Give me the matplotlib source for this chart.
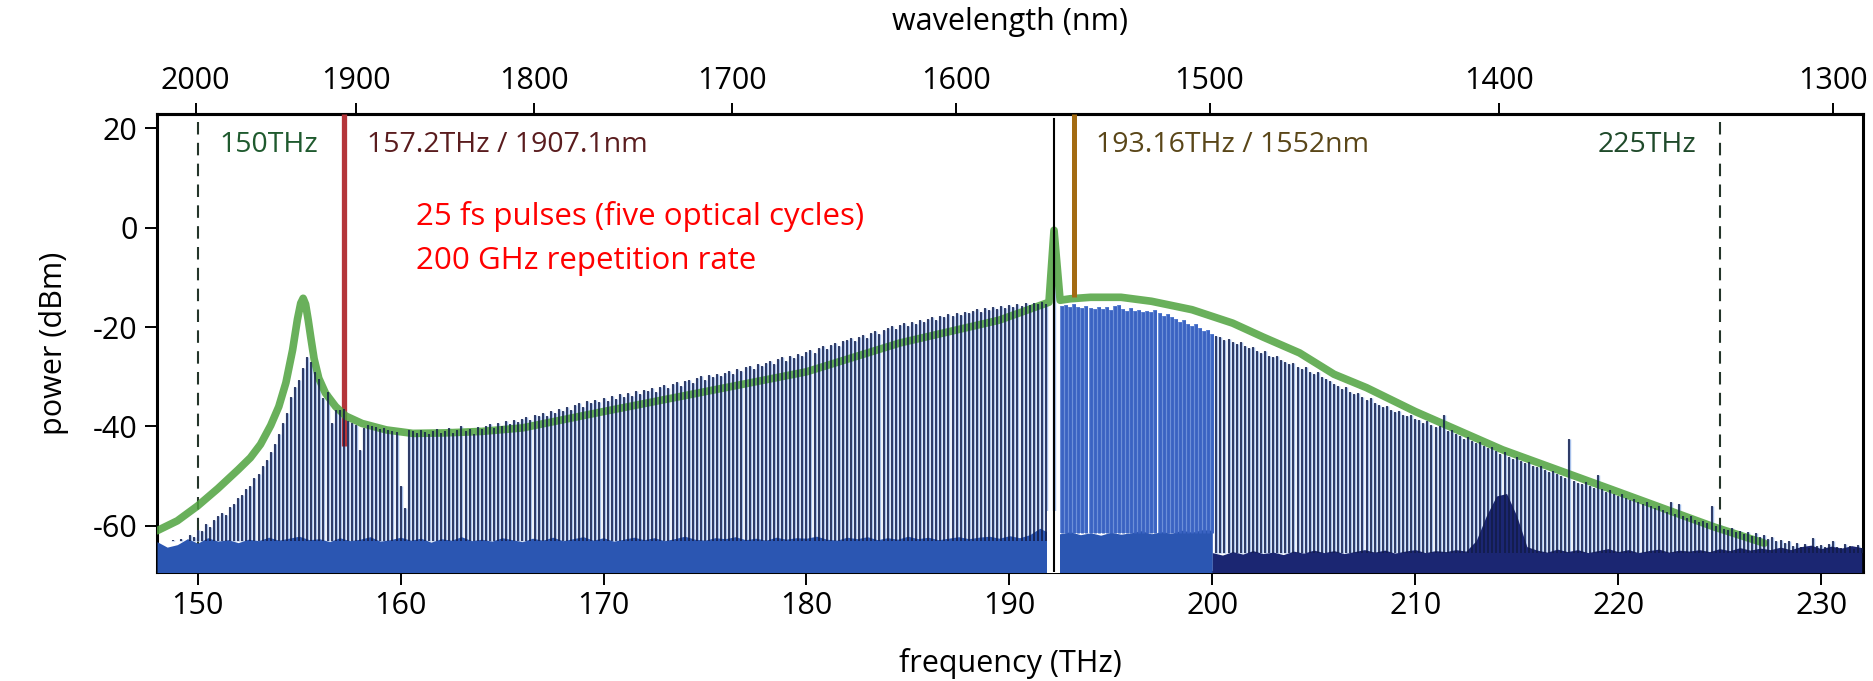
import matplotlib
matplotlib.use("Agg")
import matplotlib.pyplot as plt
import numpy as np

plt.rcParams["font.family"] = ["Open Sans", "DejaVu Sans"]
plt.rcParams["axes.unicode_minus"] = False
plt.rcParams["lines.scale_dashes"] = False

C_NM_THZ = 299792.458  # speed of light in nm*THz

# ── Comb lines: one peak value per 200 GHz line (dBm) ──
COMB_START = 148.2   # THz
COMB_STEP = 0.2      # THz (200 GHz repetition rate)
NAN = float("nan")
COMB_TOP = [
    -64.0, -63.2, -64.5, -62.8, -63.5, -62.6, -63.0, -61.8, -62.2, -60.8,   # 148.2-150.0
    -61.0, -59.6, -60.2, -58.8, -58.0, -57.4, -57.9, -56.2, -55.6, -54.5,   # 150.2-152.0
    -53.8, -52.5, -52.0, -50.4, -49.6, -48.0, -46.8, -45.2, -43.5, -41.6,   # 152.2-154.0
    -39.4, -37.3, -34.0, -32.0, -30.6, -28.3, -26.0, -27.0, -29.0, -30.4,   # 154.2-156.0
    -34.3, -33.0, -39.4, -36.6, -36.6, -36.4, -39.0, -39.3, -39.7, -44.8,   # 156.2-158.0
    -40.4, -39.7, -39.9, -40.2, -40.5, -40.3, -40.8, -41.0, -41.2, -52.0,   # 158.2-160.0
    -56.5, -40.7, -41.0, -41.4, -40.8, -41.1, -41.5, -41.0, -40.6, -41.3,   # 160.2-162.0
    -41.0, -40.4, -41.4, -40.7, -39.9, -41.0, -40.5, -41.6, -40.1, -40.6,   # 162.2-164.0
    -40.0, -39.5, -40.4, -39.4, -39.9, -39.0, -39.6, -38.7, -39.2, -38.5,   # 164.2-166.0
    -38.2, -38.8, -37.6, -38.0, -37.2, -37.8, -36.8, -37.3, -36.5, -36.9,   # 166.2-168.0
    -36.0, -36.6, -35.7, -35.2, -36.0, -34.8, -35.3, -34.6, -35.0, -34.3,   # 168.2-170.0
    -34.8, -33.8, -34.5, -33.5, -34.0, -33.2, -33.8, -32.9, -33.4, -32.6,   # 170.2-172.0
    -32.8, -32.2, -33.0, -32.0, -31.6, -32.3, -31.4, -31.0, -31.8, -30.9,   # 172.2-174.0
    -30.6, -31.2, -30.3, -29.8, -30.6, -29.6, -30.1, -29.4, -29.9, -29.2,   # 174.2-176.0
    -28.8, -29.5, -28.4, -28.9, -28.1, -27.8, -28.5, -27.5, -27.9, -27.2,   # 176.2-178.0
    -26.8, -27.4, -26.5, -26.1, -26.8, -25.8, -26.2, -25.5, -25.9, -25.0,   # 178.2-180.0
    -24.6, -25.2, -24.3, -23.9, -24.5, -23.6, -23.2, -23.9, -22.9, -22.6,   # 180.2-182.0
    -22.2, -22.8, -21.9, -21.5, -22.1, -21.2, -20.8, -21.4, -20.5, -20.2,   # 182.2-184.0
    -19.8, -20.4, -19.5, -19.2, -19.8, -18.9, -19.3, -18.6, -18.9, -18.3,   # 184.2-186.0
    -18.0, -18.5, -17.7, -17.9, -17.4, -17.8, -17.1, -17.5, -16.9, -17.2,   # 186.2-188.0
    -16.8, -16.4, -16.9, -16.2, -16.6, -15.9, -16.3, -15.7, -16.1, -15.6,   # 188.2-190.0
    -15.9, -15.4, -15.8, -15.2, -15.6, -15.1, -15.4, -14.9, -15.3, NAN,     # 190.2-192.0
    -0.5, NAN, -15.8, -15.6, -16.0, -15.4, -15.9, -16.2, -15.7, -16.1,      # 192.2-194.0
    -16.4, -15.9, -16.3, -16.0, -16.5, -15.8, -15.6, -16.4, -16.7, -16.2,   # 194.2-196.0
    -16.8, -16.5, -17.0, -16.7, -16.9, -16.6, -17.2, -17.8, -17.4, -18.0,   # 196.2-198.0
    -18.4, -18.9, -18.6, -19.3, -19.8, -19.4, -20.2, -20.8, -20.5, -21.3,   # 198.2-200.0
    -21.8, -22.0, -22.6, -22.3, -23.0, -23.4, -23.1, -23.9, -24.3, -24.0,   # 200.2-202.0
    -24.8, -25.2, -24.9, -25.8, -26.1, -25.9, -26.7, -27.1, -27.5, -27.2,   # 202.2-204.0
    -28.0, -28.4, -28.1, -29.0, -29.4, -29.1, -30.0, -30.4, -30.8, -31.5,   # 204.2-206.0
    -31.9, -32.4, -32.1, -33.0, -33.5, -33.2, -34.1, -34.6, -34.3, -35.2,   # 206.2-208.0
    -35.6, -36.0, -35.8, -36.6, -37.1, -36.8, -37.6, -38.0, -37.7, -38.5,   # 208.2-210.0
    -38.8, -39.3, -39.0, -39.8, -40.2, -40.0, -37.6, -41.0, -40.8, -41.6,   # 210.2-212.0
    -42.0, -42.5, -42.2, -43.0, -43.4, -43.1, -44.0, -44.4, -44.1, -45.0,   # 212.2-214.0
    -45.6, -45.2, -46.1, -46.5, -46.2, -47.0, -47.4, -47.1, -47.9, -48.2,   # 214.2-216.0
    -48.0, -48.8, -49.2, -48.9, -49.6, -49.9, -50.4, -42.6, -51.0, -51.3,   # 216.2-218.0
    -51.6, -51.2, -52.0, -52.4, -49.8, -52.6, -53.1, -52.8, -53.6, -54.0,   # 218.2-220.0
    -53.7, -54.5, -54.9, -54.6, -55.3, -55.7, -55.2, -56.1, -56.5, -56.0,   # 220.2-222.0
    -56.8, -57.2, -55.3, -57.6, -55.6, -58.1, -58.4, -58.0, -58.9, -59.2,   # 222.2-224.0
    -59.0, -59.4, -56.1, -60.1, -59.9, -60.6, -60.9, -60.5, -61.3, -61.0,   # 224.2-226.0
    -61.6, -61.2, -62.0, -61.5, -62.3, -61.8, -62.6, -62.2, -63.0, -62.8,   # 226.2-228.0
    -63.5, -63.0, -64.0, -63.4, -64.2, -63.6, -64.4, -62.5, -64.0, -63.8,   # 228.2-230.0
    -64.3, -63.6, -63.0, -64.2, -64.5, -63.7, -64.0, -64.6, -63.9, -64.4,   # 230.2-232.0
]

# ── Noise floor (dBm), every 0.5 THz ──
NOISE_STEP = 0.5
NOISE_LEFT_START = 148.0     # bright blue trace, 148-200 THz
NOISE_LEFT = [
    -63.2, -64.3, -63.8, -62.6, -63.5, -62.4, -63.1, -62.8,
    -63.4, -62.7, -63.0, -62.3, -62.9, -62.5, -62.1, -62.8,
    -62.6, -63.2, -62.4, -63.0, -62.7, -62.2, -63.1, -62.8,
    -62.3, -62.9, -62.5, -63.3, -62.6, -62.9, -62.2, -63.0,
    -62.7, -63.1, -62.4, -62.8, -63.2, -62.5, -62.9, -62.3,
    -63.0, -62.6, -62.2, -62.9, -62.4, -63.1, -62.7, -62.3,
    -62.8, -62.4, -63.0, -62.6, -62.1, -62.7, -62.9, -62.4,
    -62.6, -62.2, -62.8, -62.5, -62.9, -62.3, -62.7, -62.4,
    -62.5, -62.1, -62.7, -62.9, -62.3, -62.6, -62.2, -62.8,
    -62.4, -62.7, -62.1, -62.6, -62.3, -62.8, -62.5, -62.2,
    -62.6, -62.3, -62.1, -62.5, -62.0, -62.4, -61.8, -60.5,
    -61.5, -61.6, -61.2, -61.8, -61.4, -61.9, -61.3, -61.7,
    -61.4, -61.0, -61.6, -61.2, -61.5, -60.9, -61.3, -60.8,
    -60.9,
]
NOISE_RIGHT_START = 200.0    # dark navy trace, 200-232 THz
NOISE_RIGHT = [
    -65.4, -65.9, -65.2, -65.7, -65.0, -65.6, -65.3, -65.8,
    -65.1, -65.5, -64.9, -65.4, -65.0, -65.6, -65.2, -64.8,
    -65.3, -64.9, -65.5, -65.1, -64.8, -65.4, -65.0, -65.2,
    -64.8, -65.1, -63.0, -58.0, -54.0, -53.5, -58.0, -64.2,
    -64.9, -65.3, -64.7, -65.2, -64.8, -65.4, -65.0, -64.6,
    -65.2, -64.8, -65.4, -65.0, -64.7, -65.3, -64.9, -65.1,
    -64.8, -65.2, -64.6, -65.0, -64.4, -64.9, -64.5, -64.8,
    -64.3, -64.8, -64.2, -63.9, -64.6, -64.1, -64.5, -64.0,
    -64.4,
]

# ── Simulated envelope (green) ──
ENV_FREQ = [148.0, 149.0, 150.0, 151.0, 152.0, 152.6, 153.1, 153.6, 154.0, 154.35,
            154.68, 154.92, 155.08, 155.2, 155.32, 155.45, 155.58, 155.74, 155.97, 156.3,
            156.8, 157.3, 158.1, 159.3, 160.6, 162.2, 164.0, 166.0, 170.0, 175.0,
            180.0, 184.6, 189.5, 191.95, 192.2, 192.5, 193.0, 194.0, 195.5, 197.0,
            199.0, 201.0, 202.5, 204.3, 206.0, 207.6, 210.0, 214.3, 219.75, 224.7,
            227.2]
ENV_POWER = [-61.0, -59.0, -56.0, -52.5, -48.7, -46.3, -43.6, -39.8, -36.0, -31.2,
             -24.6, -18.4, -15.2, -14.2, -15.4, -18.6, -22.2, -26.4, -30.3, -33.3,
             -36.0, -37.9, -39.4, -40.7, -41.4, -41.3, -41.0, -40.3, -37.0, -33.0,
             -29.0, -23.2, -18.6, -15.0, -0.5, -14.6, -14.3, -14.0, -14.0, -14.8,
             -16.5, -19.2, -22.0, -25.2, -29.5, -32.2, -37.0, -44.7, -52.8, -60.2,
             -63.5]

# ── Markers ──
PUMP_FREQ = 192.2
NOTCH_LO, NOTCH_HI = 191.85, 192.5
DASH_MARKS = [150.0, 225.0]
RED_FREQ, RED_END = 157.2, -44.0
BROWN_FREQ, BROWN_END = 193.16, -14.0

FREQ_TICKS = [150, 160, 170, 180, 190, 200, 210, 220, 230]
WL_TICKS = [2000, 1900, 1800, 1700, 1600, 1500, 1400, 1300]
POWER_TICKS = [20, 0, -20, -40, -60]
XLIM = (148.0, 232.07)
YLIM = (-69.3, 22.9)

NAVY = "#111b47"
HALO = "#a7c0ea"
MID_BLUE = "#3a63c2"
MID_HALO = "#6d90d8"
FILL_LEFT = "#2b56b2"
FILL_RIGHT = "#1b2672"
GREEN = "#4fa23e"


def thz_to_nm(f):
    f = np.asarray(f, dtype=float)
    with np.errstate(divide="ignore", invalid="ignore"):
        return C_NM_THZ / f


fig = plt.figure(figsize=(18.74, 6.81), dpi=100)
ax = fig.add_axes([0.0838, 0.1601, 0.9104, 0.6725])
ax.set_xlim(*XLIM)
ax.set_ylim(*YLIM)

# dashed band edges
for f in DASH_MARKS:
    ax.axvline(f, ymax=0.985, color="#24352a", lw=1.5, dashes=(9, 6), zorder=1)

# comb lines (halo underneath the noise fill, dark core on top)
cf = COMB_START + COMB_STEP * np.arange(len(COMB_TOP))
top = np.array(COMB_TOP)
ok = ~np.isnan(top)
mid = (cf > NOTCH_HI - 0.15) & (cf < 200.05)
base = np.where(cf < NOTCH_LO, -63.0, np.where(cf < 200.05, -61.5, -65.5))
base = np.minimum(base, np.where(ok, top, base))

sel = ok & ~mid
ax.vlines(cf[sel], base[sel], top[sel], colors=HALO, lw=2.45, zorder=2)
sel_m = ok & mid
ax.vlines(cf[sel_m], base[sel_m], top[sel_m], colors=MID_HALO, lw=2.9, zorder=2)

# noise floor
nl_f = NOISE_LEFT_START + NOISE_STEP * np.arange(len(NOISE_LEFT))
nr_f = NOISE_RIGHT_START + NOISE_STEP * np.arange(len(NOISE_RIGHT))
ax.fill_between(nl_f, YLIM[0] - 5, NOISE_LEFT, color=FILL_LEFT, lw=0, zorder=3)
ax.fill_between(nr_f, YLIM[0] - 5, NOISE_RIGHT, color=FILL_RIGHT, lw=0, zorder=3)
ax.fill_between([NOTCH_LO, NOTCH_HI], YLIM[0] - 5, -57, color="white", lw=0, zorder=3.2)

# laser lines
ax.vlines(RED_FREQ, RED_END, YLIM[1], colors="#b4353a", lw=3.8, zorder=3.5)
ax.vlines(BROWN_FREQ, BROWN_END, YLIM[1], colors="#a36b12", lw=3.6, zorder=4.5)

# envelope sits under the dark comb cores
ax.plot(ENV_FREQ, ENV_POWER, color=GREEN, lw=5.5, alpha=0.85,
        solid_capstyle="round", solid_joinstyle="round", zorder=3.8)

ax.vlines(cf[sel], base[sel], top[sel], colors=NAVY, lw=1.15, zorder=4)
ax.vlines(cf[sel_m], base[sel_m], top[sel_m], colors=MID_BLUE, lw=2.0, zorder=4)

ax.axvline(PUMP_FREQ, ymax=0.989, color="black", lw=1.5, zorder=7)

# annotations
ax.text(151.1, 16.6, "150THz", color="#1f5a2e", fontsize=20.5, va="center", ha="left")
ax.text(158.37, 16.6, "157.2THz / 1907.1nm", color="#5a1c1e", fontsize=20.5,
        va="center", ha="left")
ax.text(194.29, 16.6, "193.16THz / 1552nm", color="#5a4618", fontsize=20.5,
        va="center", ha="left")
ax.text(223.84, 16.6, "225THz", color="#1f4a2a", fontsize=20.5, va="center", ha="right")
ax.text(160.76, 2.2, "25 fs pulses (five optical cycles)", color="red", fontsize=22.5,
        va="center", ha="left")
ax.text(160.76, -6.6, "200 GHz repetition rate", color="red", fontsize=22.5,
        va="center", ha="left")

# axes styling
ax.set_xticks(FREQ_TICKS)
ax.set_yticks(POWER_TICKS)
ax.tick_params(axis="both", direction="out", length=9, width=1.4, labelsize=22, pad=5,
               top=False, right=False)
ax.set_xlabel("frequency (THz)", fontsize=22, labelpad=19)
ax.set_ylabel("power (dBm)", fontsize=22, labelpad=17)
for sp in ax.spines.values():
    sp.set_linewidth(2.2)

secax = ax.secondary_xaxis("top", functions=(thz_to_nm, thz_to_nm))
secax.set_xticks(WL_TICKS)
secax.tick_params(direction="out", length=8, width=1.4, labelsize=22, pad=5)
secax.set_xlabel("wavelength (nm)", fontsize=22, labelpad=26)
secax.spines["top"].set_linewidth(2.2)

fig.savefig("out.png", dpi=100)
